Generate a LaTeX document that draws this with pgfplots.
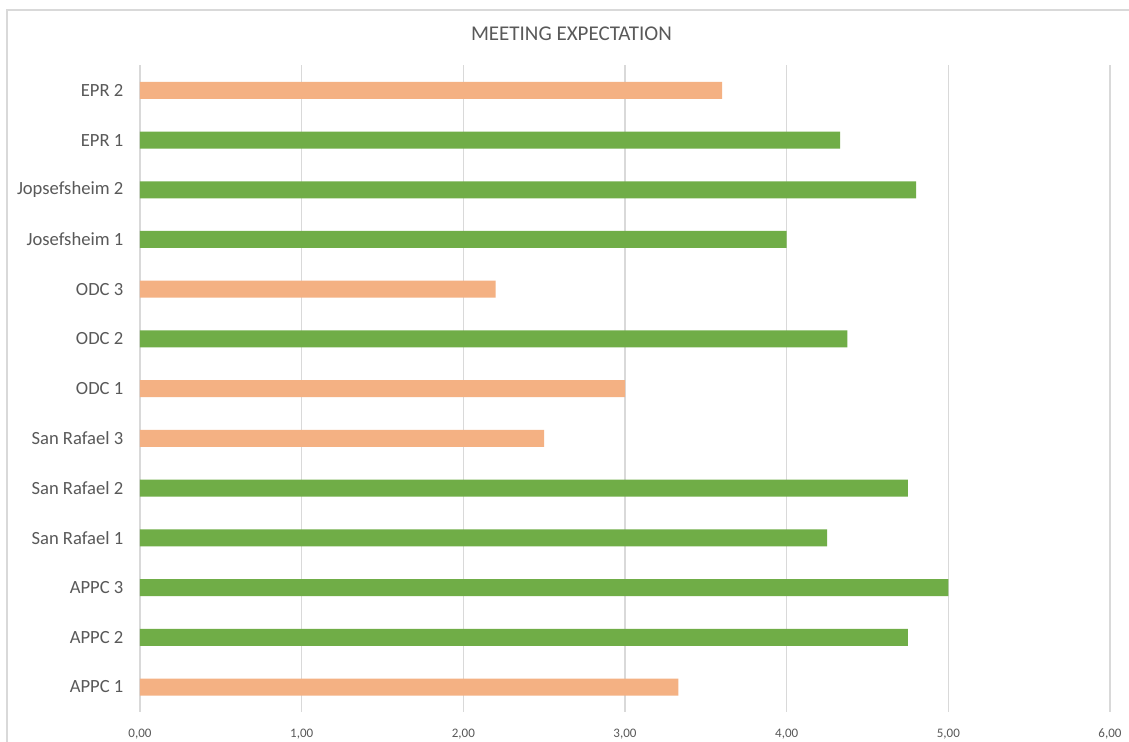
\documentclass[border=0pt]{standalone}
\usepackage{pgfplots}
\pgfplotsset{compat=1.18}
\usepackage{fontspec}
\setmainfont{Carlito}
\definecolor{txtgray}{HTML}{595959}
\definecolor{gridgray}{HTML}{D9D9D9}
\definecolor{barGreen}{HTML}{70AD47}
\definecolor{barOrange}{HTML}{F4B183}
\definecolor{framegray}{HTML}{D9D9D9}

\begin{document}
\begin{tikzpicture}
\path[use as bounding box, clip] (0,0) rectangle (846.75pt,556.5pt);
\fill[white] (0,0) rectangle (846.75pt,556.5pt);
% chart area frame (only its left and top edges fall inside the page)
\draw[framegray, line width=0.9pt] (5.25pt,-5pt) -- (5.25pt,549pt) -- (880pt,549pt);
\node[txtgray, font=\fontsize{15.75}{18}\selectfont, inner sep=0pt] at (428.6pt,531.2pt) {MEETING EXPECTATION};
\begin{axis}[
  at={(105pt,22.6pt)}, anchor=south west,
  scale only axis, width=727.5pt, height=484.8pt,
  xmin=0, xmax=6, ymin=-0.5, ymax=12.5,
  xbar, bar width=12.75pt, bar shift=0pt,
  xtick={0,...,6}, ytick={0,...,12},
  yticklabels={APPC 1, APPC 2, APPC 3, San Rafael 1, San Rafael 2, San Rafael 3,
    ODC 1, ODC 2, ODC 3, Josefsheim 1, Jopsefsheim 2, EPR 1, EPR 2},
  xmajorgrids, ymajorgrids=false,
  major grid style={gridgray, line width=1pt},
  axis line style={draw=none}, major tick length=0pt,
  /pgf/number format/assume math mode=true,
  xticklabel={\pgfmathprintnumber[fixed, fixed zerofill, precision=2, use comma]{\tick}},
  xticklabel style={font=\fontsize{9.75}{11}\selectfont, text=txtgray, yshift=-9.4pt},
  yticklabel style={font=\fontsize{13.95}{16}\selectfont, text=txtgray, xshift=-9pt},
  clip=false,
]
% scores at or above four
\addplot[fill=barGreen, draw=none] coordinates {
  (4.75,1) (5.00,2) (4.25,3) (4.75,4) (4.375,7) (4.00,9) (4.80,10) (4.33,11)
};
% scores below four
\addplot[fill=barOrange, draw=none] coordinates {
  (3.33,0) (2.50,5) (3.00,6) (2.20,8) (3.60,12)
};
\end{axis}
\end{tikzpicture}
\end{document}
